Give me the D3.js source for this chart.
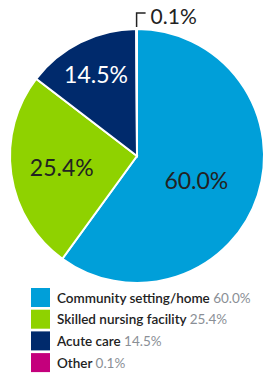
<!DOCTYPE html>
<html>
<head>
<meta charset="utf-8">
<script src="https://cdn.jsdelivr.net/npm/d3@7"></script>
<style>
  body { margin: 0; background: #fff; }
  svg { display: block; font-family: Lato, "Noto Sans", sans-serif; }
</style>
</head>
<body>
<div id="chart"></div>
<script>
// data
var categories = ["Community setting/home", "Skilled nursing facility", "Acute care", "Other"];
var shares = [60.0, 25.4, 14.5, 0.1];
var colors = ["#009fd9", "#8fd200", "#002a6c", "#c4007c"];

var width = 275,
    height = 375,
    radius = 127;

var svg = d3.select("#chart")
  .append("svg")
    .attr("width", width)
    .attr("height", height);

var g = svg.append("g")
    .attr("transform", "translate(" + 137 + "," + 156 + ")");

var pie = d3.pie().sort(null).value(function(d) { return d; });
var data_ready = pie(shares);

var arcGenerator = d3.arc().innerRadius(0).outerRadius(radius);

g.selectAll("path.slice")
  .data(data_ready)
  .join("path")
    .attr("class", "slice")
    .attr("d", arcGenerator)
    .attr("fill", function(d, i) { return colors[i]; })
    .attr("stroke", "white")
    .style("stroke-width", "2px");

// in-slice labels (big ones only)
var labelR = [64, 76, 92];
var textColor = ["#222", "#222", "#fff"];
data_ready.forEach(function(d, i) {
  if (i > 2) return;
  var a = (d.startAngle + d.endAngle) / 2 + (i == 0 ? 0.07 : 0);
  g.append("text")
    .attr("x", Math.sin(a) * labelR[i])
    .attr("y", -Math.cos(a) * labelR[i])
    .attr("text-anchor", "middle")
    .attr("dominant-baseline", "central")
    .style("font-size", "23px")
    .style("fill", textColor[i])
    .text(shares[i].toFixed(1) + "%");
});

// callout for the tiny slice
var tiny = data_ready[3];
var ta = (tiny.startAngle + tiny.endAngle) / 2;
var px = Math.sin(ta) * (radius + 2), py = -Math.cos(ta) * (radius + 2);
g.append("path")
  .attr("d", "M" + px + "," + py + "V" + (py - 14) + "H" + (px + 9))
  .attr("fill", "none")
  .attr("stroke", "#222")
  .attr("stroke-width", 1.5);
g.append("text")
  .attr("x", px + 14)
  .attr("y", py - 12)
  .attr("dominant-baseline", "central")
  .style("font-size", "21px")
  .style("fill", "#222")
  .text(shares[3].toFixed(1) + "%");

// legend
var legend = svg.append("g").attr("transform", "translate(31,288)");
var rows = legend.selectAll("g")
  .data(categories)
  .join("g")
    .attr("transform", function(d, i) { return "translate(0," + (i * 21.7) + ")"; });

rows.append("rect")
  .attr("width", 19)
  .attr("height", 19)
  .attr("fill", function(d, i) { return colors[i]; });

var lt = rows.append("text")
  .attr("x", 26)
  .attr("y", 9.5)
  .attr("dominant-baseline", "central")
  .style("font-size", "13.5px");
lt.append("tspan")
  .style("fill", "#222")
  .style("font-weight", 600)
  .text(function(d) { return d + " "; });
lt.append("tspan")
  .style("fill", "#8a8f96")
  .text(function(d, i) { return shares[i].toFixed(1) + "%"; });
</script>
</body>
</html>
